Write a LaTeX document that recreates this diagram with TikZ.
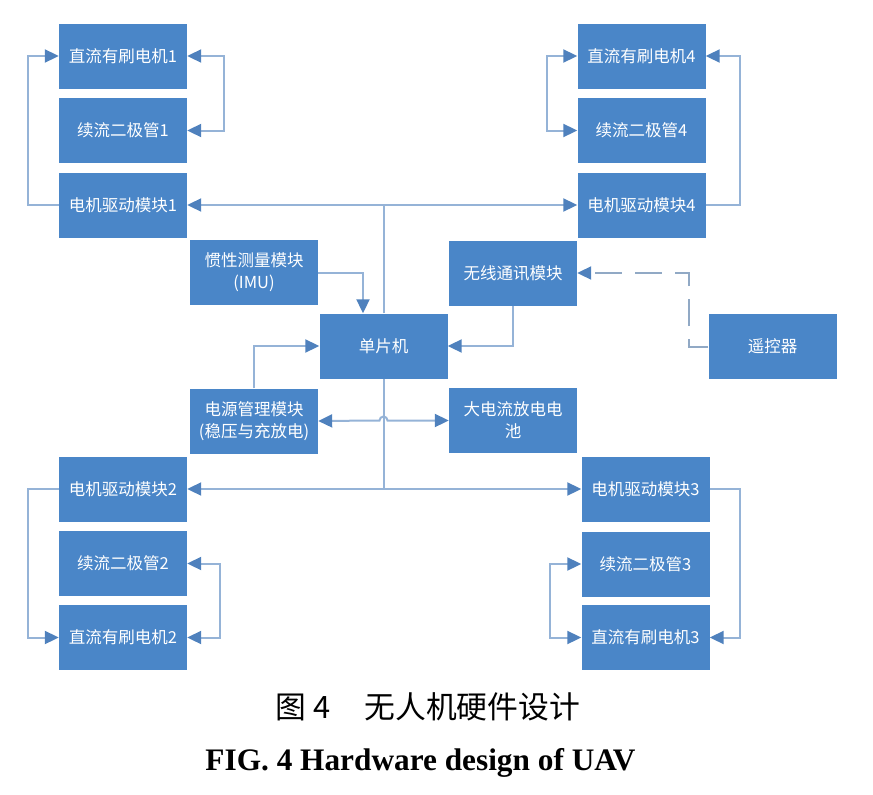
\documentclass[tikz,border=0pt]{standalone}
\usepackage{fontspec}
\setmainfont{Liberation Serif}
\newfontfamily\cjk{Noto Sans CJK SC}
\usetikzlibrary{arrows.meta}
\definecolor{boxblue}{HTML}{4A86C8}
\definecolor{lineblue}{HTML}{95B3D7}
\definecolor{tipblue}{HTML}{4F81BD}
\newlength{\boxw}
\setlength{\boxw}{128pt}
\tikzset{block/.style = {shape=rectangle,fill=boxblue,text=white,minimum width=\boxw,minimum height=65pt,inner sep=1pt,align=center,font=\cjk\fontsize{16.5}{22}\selectfont}}
\tikzset{wire/.style = {draw=lineblue,line width=2pt}}
\tikzset{edge/.style = {wire,-{Triangle[length=14pt,width=13pt,color=tipblue]}}}
\tikzset{dedge/.style = {wire,{Triangle[length=14pt,width=13pt,color=tipblue]}-{Triangle[length=14pt,width=13pt,color=tipblue]}}}
\tikzset{radio/.style = {edge,draw=lineblue!80!gray,dash pattern=on 27pt off 13pt}}

\begin{document}
\begin{tikzpicture}[x=1pt,y=-1pt]
            \useasboundingbox (0,0) rectangle (873,795);
            % left upper motor group
            \node[block] (m1) at (123,56) {直流有刷电机1};
            \node[block] (dio1) at (123,130.5) {续流二极管1};
            \node[block] (drv1) at (123,205) {电机驱动模块1};
            \draw[edge] (drv1.west) -- ++(-31,0) |- (m1.west);
            \draw[dedge] (m1.east) -- ++(37,0) |- (dio1.east);
            % right upper motor group
            \node[block] (m4) at (641.5,56) {直流有刷电机4};
            \node[block] (dio4) at (641.5,130.5) {续流二极管4};
            \node[block] (drv4) at (641.5,205) {电机驱动模块4};
            \draw[edge] (drv4.east) -- ++(34.5,0) |- (m4.east);
            \draw[dedge] (m4.west) -- ++(-30.5,0) |- (dio4.west);
            % middle
            \node[block] (mcu) at (383.5,346) {单片机};
            \node[block] (imu) at (254,272.5) {惯性测量模块\\(IMU)};
            \node[block] (rf) at (513,273) {无线通讯模块};
            \node[block] (pwr) at (254,421) {电源管理模块\\(稳压与充放电)};
            \node[block] (bat) at (513,420.5) {大电流放电电\\池};
            \node[block] (rc) at (772.5,346.5) {遥控器};
            \draw[dedge] (drv1.east) -- (drv4.west);
            \draw[wire] (mcu.north) -- (mcu.north |- drv1.east);
            \draw[edge] (imu.east) -| ([xshift=-20.5pt]mcu.north);
            \draw[edge] (rf.south) |- (mcu.east);
            \draw[edge] (pwr.north) |- (mcu.west);
            \draw[radio] (rc.west) -- ++(-19.5,0) |- (rf.east);
            \draw[dedge] (pwr.east) -- (379.5,420.5) arc[start angle=180,end angle=360,radius=4] -- (bat.west);
            % left lower motor group
            \node[block] (drv2) at (123,489) {电机驱动模块2};
            \node[block] (dio2) at (123,563.5) {续流二极管2};
            \node[block] (m2) at (123,637.5) {直流有刷电机2};
            \draw[edge] (drv2.west) -- ++(-31,0) |- (m2.west);
            \draw[dedge] (dio2.east) -- ++(33,0) |- (m2.east);
            % right lower motor group
            \node[block] (drv3) at (645.5,489) {电机驱动模块3};
            \node[block] (dio3) at (645.5,564) {续流二极管3};
            \node[block] (m3) at (645.5,637.5) {直流有刷电机3};
            \draw[edge] (drv3.east) -- ++(30.5,0) |- (m3.east);
            \draw[dedge] (dio3.west) -- ++(-31.5,0) |- (m3.west);
            \draw[dedge] (drv2.east) -- (drv3.west);
            \draw[wire] (mcu.south) -- (mcu.south |- drv2.east);
            % caption
            \node[font=\cjk\fontsize{30.8}{34}\selectfont] (cap) at (428,707) {图 4\hspace{1.1em}无人机硬件设计};
            \node[font=\bfseries\fontsize{31.3}{35}\selectfont,anchor=base] (fig) at (420.5,770) {FIG. 4 Hardware design of UAV};
        \end{tikzpicture}
\end{document}
